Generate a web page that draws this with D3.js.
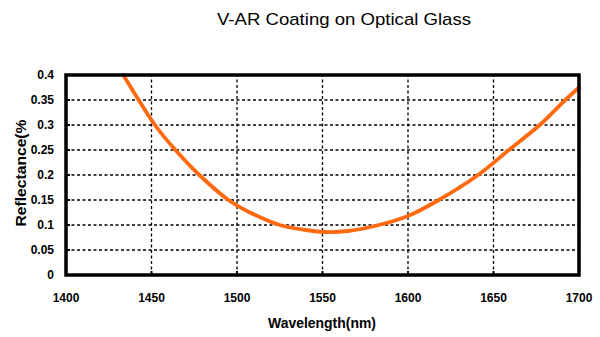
<!DOCTYPE html>
<html>
<head>
<meta charset="utf-8">
<script src="https://d3js.org/d3.v7.min.js"></script>
<style>
  body { margin: 0; background: #fff; }
  text { font-family: "Liberation Sans", Arial, sans-serif; }
</style>
</head>
<body>
<svg width="600" height="337"></svg>
<script>
// Reflectance curve
var wavelength  = [1433.5, 1442.5, 1452, 1464, 1478, 1495, 1507, 1525, 1540, 1552, 1565, 1583, 1600, 1618, 1641, 1659, 1677, 1692, 1700];
var reflectance = [0.40, 0.35, 0.30, 0.25, 0.20, 0.15, 0.126, 0.10, 0.090, 0.086, 0.088, 0.10, 0.118, 0.15, 0.20, 0.25, 0.30, 0.35, 0.375];

var xTicks = [1400, 1450, 1500, 1550, 1600, 1650, 1700];
var yTicks = [0, 0.05, 0.1, 0.15, 0.2, 0.25, 0.3, 0.35, 0.4];

var svg = d3.select('svg');

var x = d3.scaleLinear().domain([1400, 1700]).range([66, 579]);
var y = d3.scaleLinear().domain([0, 0.4]).range([275, 75]);

// title
svg.append('text')
    .attr('x', 344)
    .attr('y', 25)
    .attr('text-anchor', 'middle')
    .attr('textLength', 254)
    .attr('lengthAdjust', 'spacingAndGlyphs')
    .style('font-size', '17px')
    .text('V-AR Coating on Optical Glass');

// dashed grid
svg.append('g').selectAll('line')
    .data(yTicks.slice(1, -1))
    .enter().append('line')
    .attr('x1', x(1400)).attr('x2', x(1700))
    .attr('y1', d => y(d)).attr('y2', d => y(d))
    .attr('stroke', '#000')
    .attr('stroke-width', 1.3)
    .attr('stroke-dasharray', '3,2.5');

svg.append('g').selectAll('line')
    .data(xTicks.slice(1, -1))
    .enter().append('line')
    .attr('y1', y(0)).attr('y2', y(0.4))
    .attr('x1', d => x(d)).attr('x2', d => x(d))
    .attr('stroke', '#000')
    .attr('stroke-width', 1.3)
    .attr('stroke-dasharray', '3,2.5');

// little tick marks inside the frame
svg.append('g').selectAll('line')
    .data(yTicks)
    .enter().append('line')
    .attr('x1', x(1400)).attr('x2', x(1400) + 4)
    .attr('y1', d => y(d)).attr('y2', d => y(d))
    .attr('stroke', '#000').attr('stroke-width', 2);

svg.append('g').selectAll('line')
    .data(xTicks)
    .enter().append('line')
    .attr('y1', y(0)).attr('y2', y(0) - 4)
    .attr('x1', d => x(d)).attr('x2', d => x(d))
    .attr('stroke', '#000').attr('stroke-width', 2);

// curve
var pts = wavelength.map((w, i) => [w, reflectance[i]]);
var line = d3.line()
    .x(d => x(d[0]))
    .y(d => y(d[1]))
    .curve(d3.curveCatmullRom.alpha(0.5));

svg.append('path')
    .datum(pts)
    .attr('d', line)
    .attr('fill', 'none')
    .attr('stroke', '#ff6a10')
    .attr('stroke-width', 3.8)
    .attr('stroke-linecap', 'round');

// frame
svg.append('rect')
    .attr('x', x(1400)).attr('y', y(0.4))
    .attr('width', x(1700) - x(1400))
    .attr('height', y(0) - y(0.4))
    .attr('fill', 'none')
    .attr('stroke', '#000')
    .attr('stroke-width', 3.5);

// tick labels
svg.append('g').selectAll('text')
    .data(yTicks)
    .enter().append('text')
    .attr('x', 54)
    .attr('y', d => y(d) + 4)
    .attr('text-anchor', 'end')
    .style('font-size', '12px')
    .style('font-weight', 'bold')
    .text(d => d);

svg.append('g').selectAll('text')
    .data(xTicks)
    .enter().append('text')
    .attr('x', d => x(d))
    .attr('y', 302)
    .attr('text-anchor', 'middle')
    .style('font-size', '12px')
    .style('font-weight', 'bold')
    .text(d => d);

// axis titles
svg.append('text')
    .attr('x', 322)
    .attr('y', 328)
    .attr('text-anchor', 'middle')
    .attr('textLength', 108)
    .attr('lengthAdjust', 'spacingAndGlyphs')
    .style('font-size', '14px')
    .style('font-weight', 'bold')
    .text('Wavelength(nm)');

svg.append('text')
    .attr('transform', 'translate(26,173) rotate(-90)')
    .attr('text-anchor', 'middle')
    .attr('textLength', 107)
    .attr('lengthAdjust', 'spacingAndGlyphs')
    .style('font-size', '14px')
    .style('font-weight', 'bold')
    .text('Reflectance(%');
</script>
</body>
</html>
